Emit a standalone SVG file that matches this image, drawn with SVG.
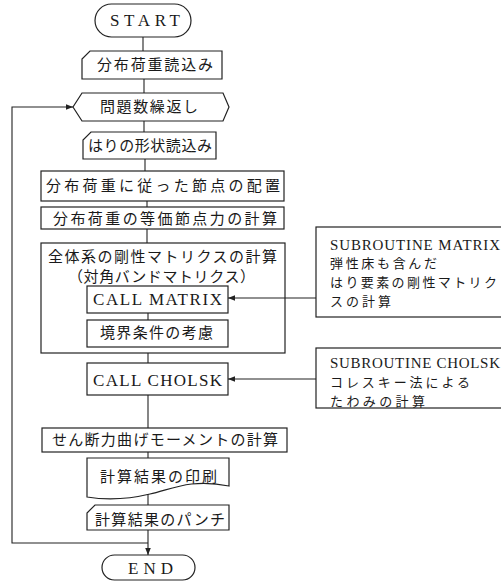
<svg xmlns="http://www.w3.org/2000/svg" width="501" height="585" viewBox="0 0 501 585">
<defs>
<style>
.s{fill:#fff;stroke:#222;stroke-width:1.2}
.c{fill:none;stroke:#222;stroke-width:1.1}
.j{font-family:"Noto Sans CJK JP","Noto Sans CJK SC",sans-serif;font-size:15px;fill:#1a1a1a}
.e{font-family:"Liberation Serif",serif;font-size:17px;fill:#1a1a1a}
.r{font-family:"Noto Sans CJK JP","Noto Sans CJK SC",sans-serif;font-size:13px;fill:#1a1a1a}
.re{font-family:"Liberation Serif",serif;font-size:15px;fill:#1a1a1a}
</style>
<marker id="ah" viewBox="0 0 10 10" refX="10" refY="5" markerWidth="7" markerHeight="7" orient="auto" markerUnits="userSpaceOnUse">
<path d="M0,1 L10,5 L0,9 Z" fill="#222"/>
</marker>
</defs>
<rect width="501" height="585" fill="#fff"/>
<g id="start">
<rect class="s" x="95" y="4" width="96" height="33" rx="16.5"/>
<text class="e" x="110" y="26" font-size="18" textLength="70" lengthAdjust="spacing">START</text>
</g>
<g id="read-load">
<path class="s" d="M90,51 H222 V79 H82 V59 Z"/>
<text class="j" x="97" y="70" textLength="116" lengthAdjust="spacing">分布荷重読込み</text>
</g>
<g id="loop">
<path class="s" d="M82,93 H223 L229,107 L223,121 H82 L73,107 Z"/>
<text class="j" x="100" y="112" textLength="98" lengthAdjust="spacing">問題数繰返し</text>
</g>
<g id="read-shape">
<path class="s" d="M91,132 H216 V159 H83 V140 Z"/>
<text class="j" x="88" y="151" textLength="124" lengthAdjust="spacing">はりの形状読込み</text>
</g>
<g id="nodes">
<rect class="s" x="41" y="171" width="243" height="30"/>
<text class="j" x="46" y="191" textLength="234" lengthAdjust="spacing">分布荷重に従った節点の配置</text>
</g>
<g id="equiv">
<rect class="s" x="41" y="207" width="243" height="22"/>
<text class="j" x="53" y="224" textLength="224" lengthAdjust="spacing">分布荷重の等価節点力の計算</text>
</g>
<g id="global">
<rect class="s" x="41" y="243" width="244" height="110"/>
<text class="j" x="48" y="262" font-size="13.5" textLength="229" lengthAdjust="spacing">全体系の剛性マトリクスの計算</text>
<text class="j" x="68" y="282" font-size="13.5" textLength="187" lengthAdjust="spacing">（対角バンドマトリクス）</text>
</g>
<g id="call-matrix">
<rect class="s" x="87" y="286" width="141" height="27"/>
<text class="e" x="93" y="305" textLength="129" lengthAdjust="spacing">CALL MATRIX</text>
</g>
<g id="boundary">
<rect class="s" x="87" y="320" width="141" height="27"/>
<text class="j" x="100" y="338" textLength="113" lengthAdjust="spacing">境界条件の考慮</text>
</g>
<g id="call-cholsk">
<rect class="s" x="87" y="363" width="141" height="32"/>
<text class="e" x="93" y="386" textLength="129" lengthAdjust="spacing">CALL CHOLSK</text>
</g>
<g id="shear">
<rect class="s" x="42" y="428" width="245" height="24"/>
<text class="j" x="52" y="445" textLength="226" lengthAdjust="spacing">せん断力曲げモーメントの計算</text>
</g>
<g id="print">
<path class="s" d="M87,458 H229 V486 C190,478 170,490 150,494 C125,500 105,500 87,497 Z"/>
<text class="j" x="100" y="482" textLength="117" lengthAdjust="spacing">計算結果の印刷</text>
</g>
<g id="punch">
<path class="s" d="M95,505 H229 V530 H87 V513 Z"/>
<text class="j" x="95" y="525" textLength="130" lengthAdjust="spacing">計算結果のパンチ</text>
</g>
<g id="end">
<rect class="s" x="102" y="555" width="93" height="25" rx="12.5"/>
<text class="e" x="128" y="574" textLength="45" lengthAdjust="spacing">END</text>
</g>
<g id="sub-matrix">
<rect class="s" x="316" y="227" width="195" height="90"/>
<text class="re" x="330" y="250" textLength="170" lengthAdjust="spacing">SUBROUTINE MATRIX</text>
<text class="r" x="330" y="268" textLength="107" lengthAdjust="spacing">弾性床も含んだ</text>
<text class="r" x="330" y="287" textLength="167" lengthAdjust="spacing">はり要素の剛性マトリク</text>
<text class="r" x="330" y="306" textLength="61" lengthAdjust="spacing">スの計算</text>
</g>
<g id="sub-cholsk">
<rect class="s" x="316" y="348" width="195" height="60"/>
<text class="re" x="330" y="368" textLength="170" lengthAdjust="spacing">SUBROUTINE CHOLSK</text>
<text class="r" x="330" y="387" textLength="140" lengthAdjust="spacing">コレスキー法による</text>
<text class="r" x="330" y="406" textLength="95" lengthAdjust="spacing">たわみの計算</text>
</g>
<g id="connectors">
<path class="c" d="M143,37 V51"/>
<path class="c" d="M144,79 V93"/>
<path class="c" d="M144,121 V132"/>
<path class="c" d="M145,159 V171"/>
<path class="c" d="M147,201 V207"/>
<path class="c" d="M147,229 V243"/>
<path class="c" d="M148,313 V320"/>
<path class="c" d="M148,353 V363"/>
<path class="c" d="M148,395 V428"/>
<path class="c" d="M148,452 V458"/>
<path class="c" d="M148,494 V505"/>
<path class="c" d="M148,530 V555" marker-end="url(#ah)"/>
<path class="c" d="M148,543 H12 V107 H73" marker-end="url(#ah)"/>
<path class="c" d="M316,298 H228" marker-end="url(#ah)"/>
<path class="c" d="M316,379 H228" marker-end="url(#ah)"/>
</g>
</svg>
